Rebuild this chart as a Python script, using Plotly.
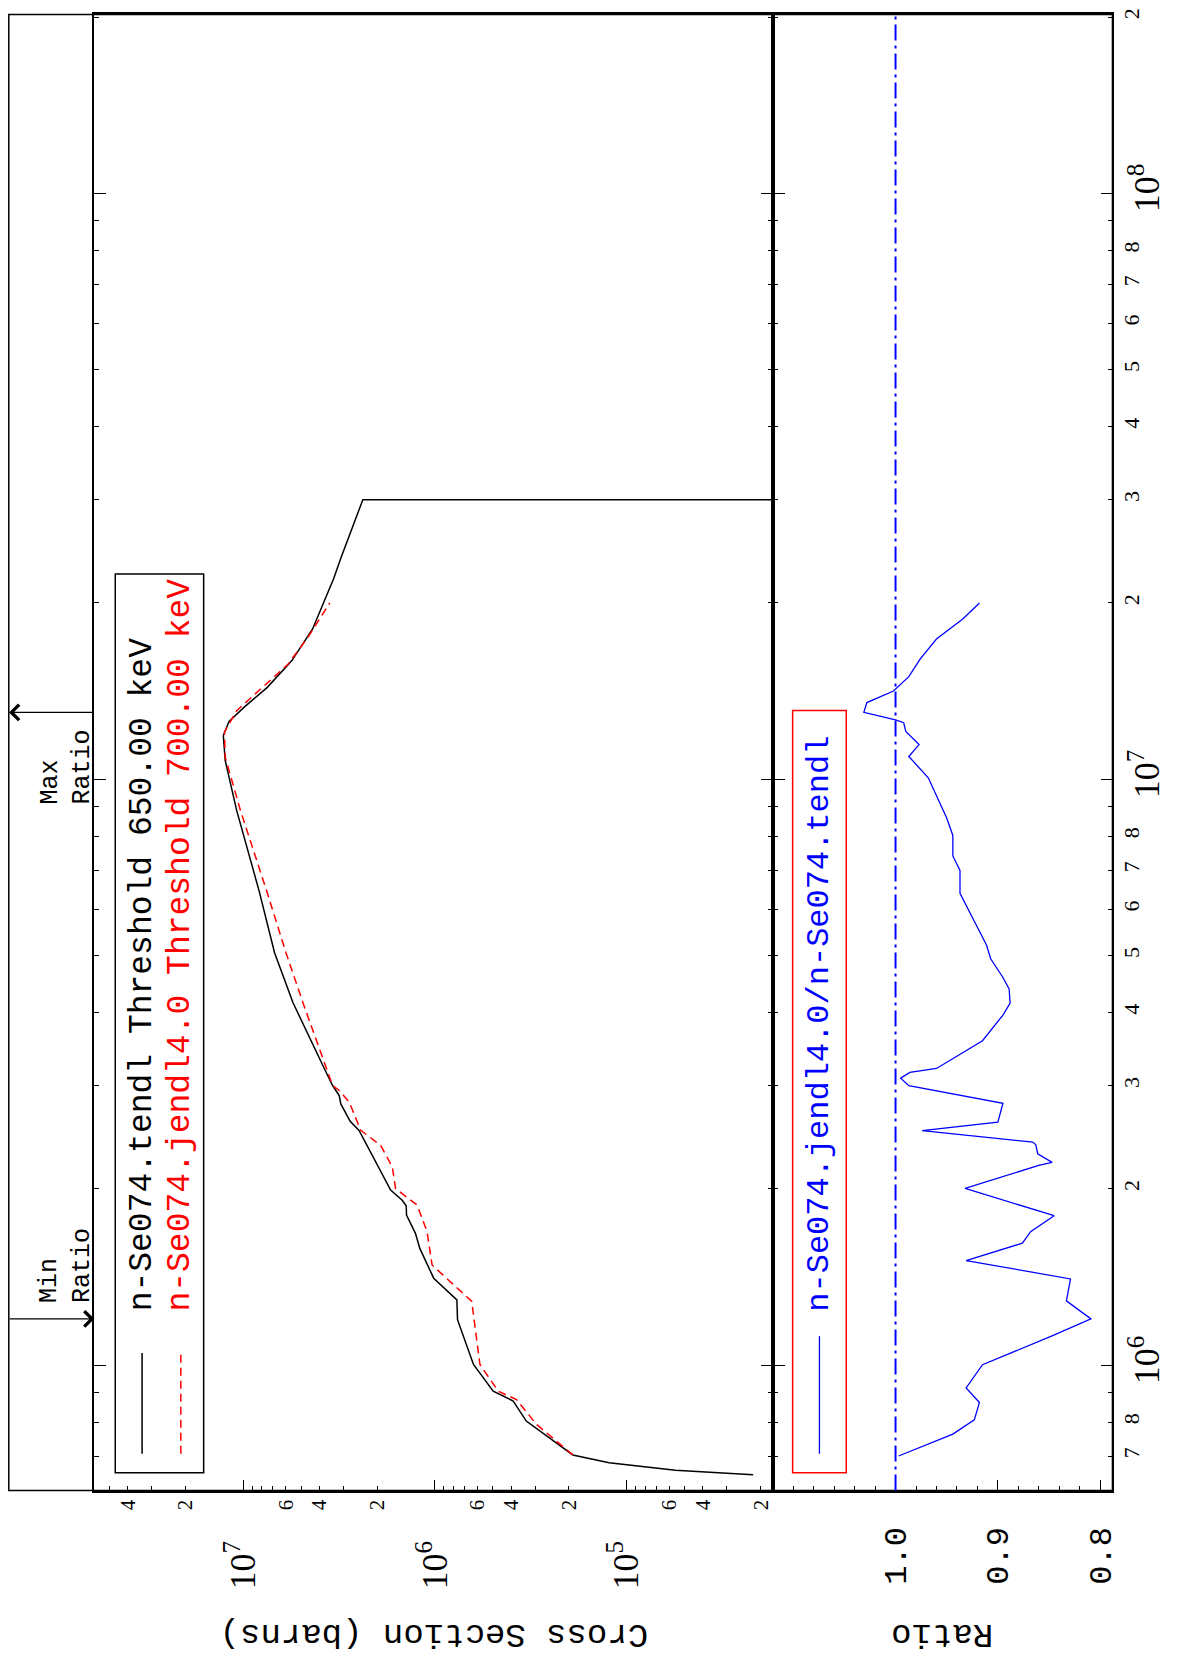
import numpy as np
import plotly.graph_objects as go

# ---------------- data ----------------
# n-Se074.tendl : incident energy (eV) / cross section (barns)
tendl_energy = [6.50e5, 6.62e5, 6.82e5, 7.03e5, 8.03e5, 8.69e5, 9.03e5, 1.003e6,
                1.196e6, 1.293e6, 1.408e6, 1.583e6, 1.679e6, 1.804e6, 1.872e6, 1.913e6,
                1.99e6, 2.194e6, 2.404e6, 2.517e6, 2.608e6, 2.793e6, 2.887e6, 3.002e6,
                3.203e6, 4.16e6, 5.06e6, 6.42e6, 8.85e6, 1.077e7, 1.188e7, 1.255e7,
                1.328e7, 1.434e7, 1.593e7, 1.806e7, 2.20e7, 2.39e7, 3.0e7, 3.0e7]
tendl_xs = [2.19e4, 5.57e4, 1.235e5, 1.91e5, 3.34e5, 3.91e5, 4.97e5, 6.30e5,
            7.63e5, 7.69e5, 1.016e6, 1.20e6, 1.265e6, 1.408e6, 1.413e6, 1.483e6,
            1.704e6, 2.0e6, 2.30e6, 2.49e6, 2.77e6, 3.10e6, 3.16e6, 3.42e6,
            3.77e6, 5.51e6, 6.87e6, 8.24e6, 1.083e7, 1.243e7, 1.271e7, 1.187e7,
            9.89e6, 7.52e6, 5.59e6, 4.35e6, 3.38e6, 3.09e6, 2.38e6, 1e-3]

# n-Se074.jendl4.0
jendl_energy = [7.03e5, 7.93e5, 8.74e5, 9.03e5, 1.003e6, 1.285e6, 1.483e6, 1.69e6,
                1.877e6, 2.002e6, 2.18e6, 2.373e6, 2.517e6, 2.812e6, 2.944e6, 3.0e6,
                4.16e6, 5.06e6, 6.42e6, 8.85e6, 1.092e7, 1.204e7, 1.31e7, 1.571e7,
                1.757e7, 2.0e7]
jendl_xs = [1.91e5, 2.96e5, 3.76e5, 4.68e5, 5.83e5, 6.43e5, 1.036e6, 1.10e6,
            1.24e6, 1.606e6, 1.67e6, 1.92e6, 2.44e6, 2.80e6, 3.16e6, 3.42e6,
            4.89e6, 5.99e6, 7.52e6, 1.035e7, 1.243e7, 1.254e7, 1.083e7, 5.85e6,
            4.55e6, 3.54e6]

# ratio jendl4.0 / tendl
ratio_energy = [7.0e5, 7.63e5, 8.07e5, 8.64e5, 9.15e5, 1.002e6, 1.122e6, 1.2e6,
                1.288e6, 1.404e6, 1.509e6, 1.616e6, 1.69e6, 1.80e6, 2.004e6, 2.194e6,
                2.22e6, 2.296e6, 2.38e6, 2.404e6, 2.515e6, 2.60e6, 2.80e6, 3.0e6,
                3.09e6, 3.16e6, 3.21e6, 3.34e6, 3.58e6, 3.96e6, 4.15e6, 4.39e6,
                4.59e6, 4.94e6, 5.21e6, 5.77e6, 6.39e6, 6.99e6, 7.40e6, 8.02e6,
                8.59e6, 1.006e7, 1.094e7, 1.146e7, 1.207e7, 1.249e7, 1.263e7, 1.301e7,
                1.352e7, 1.415e7, 1.497e7, 1.604e7, 1.736e7, 1.88e7, 2.0e7]
ratio_vals = [0.997, 0.944, 0.923, 0.918, 0.931, 0.915, 0.847, 0.809,
              0.833, 0.829, 0.931, 0.876, 0.868, 0.845, 0.932, 0.860,
              0.847, 0.861, 0.863, 0.866, 0.974, 0.900, 0.895, 0.987,
              0.995, 0.986, 0.960, 0.944, 0.915, 0.895, 0.888, 0.889,
              0.895, 0.907, 0.911, 0.924, 0.937, 0.937, 0.944, 0.944,
              0.950, 0.968, 0.987, 0.977, 0.990, 0.992, 1.000, 1.031,
              1.028, 1.002, 0.987, 0.976, 0.960, 0.934, 0.918]

legend_tendl = "n-Se074.tendl Threshold 650.00 keV"
legend_jendl = "n-Se074.jendl4.0 Threshold 700.00 keV"
legend_ratio = "n-Se074.jendl4.0/n-Se074.tendl"

# tick labels
E_label_mantissas = [2, 3, 4, 5, 6, 7, 8]
XS_label_mantissas = [2, 4, 6]
ratio_ticks = [0.8, 0.9, 1.0]
ratio_ticktext = ["0.8", "0.9", "1.0"]

# axis ranges
E_LO, E_HI = 6.11e5, 2.02e8
XS_HI, XS_LO = 5.98e7, 1.73e4
R_HI, R_LO = 1.12, 0.788

# ---------------- layout helpers ----------------
# page has an 8px body margin: figure is placed at (8, 8) in the window
OFF = 8
W, H = 1177, 1652
def px(x):
    return (x - OFF) / W
def py(y):
    return 1 - (y - OFF) / H

MONO = "Liberation Mono"
SERIF = "Liberation Serif"
BLUE = "#0000ff"
RED = "#ff0000"

def in_rng(v, lo, hi):
    return lo * 0.999 <= v <= hi * 1.001

E_dec = [5, 6, 7, 8]
E_major = [10.0 ** n for n in E_dec if in_rng(10.0 ** n, E_LO, E_HI)]
E_minor = [m * 10.0 ** n for n in E_dec for m in range(2, 10) if in_rng(m * 10.0 ** n, E_LO, E_HI)]
E_lab = [m * 10.0 ** n for n in E_dec for m in E_label_mantissas if in_rng(m * 10.0 ** n, E_LO, E_HI)]
E_lab_txt = [str(int(round(v / 10 ** np.floor(np.log10(v))))) for v in E_lab]
E_major_txt = ["10<sup>%d</sup>" % int(round(np.log10(v))) for v in E_major]

XS_dec = [4, 5, 6, 7]
XS_major = [10.0 ** n for n in XS_dec if in_rng(10.0 ** n, XS_LO, XS_HI)]
XS_minor = [m * 10.0 ** n for n in XS_dec for m in range(2, 10) if in_rng(m * 10.0 ** n, XS_LO, XS_HI)]
XS_lab = [m * 10.0 ** n for n in XS_dec for m in XS_label_mantissas if in_rng(m * 10.0 ** n, XS_LO, XS_HI)]
XS_lab_txt = [str(int(round(v / 10 ** np.floor(np.log10(v))))) for v in XS_lab]
XS_major_txt = ["10<sup>%d</sup>" % int(round(np.log10(v))) for v in XS_major]

X1 = (95, 778)
X2 = (778, 1120)
YB, YT = 1490, 8.5

fig = go.Figure()

fig.add_trace(go.Scatter(x=tendl_xs, y=tendl_energy, mode="lines", xaxis="x", yaxis="y",
                         line=dict(color="black", width=1.5), showlegend=False))
fig.add_trace(go.Scatter(x=jendl_xs, y=jendl_energy, mode="lines", xaxis="x", yaxis="y",
                         line=dict(color=RED, width=1.5, dash="8px,5px"), showlegend=False))
fig.add_trace(go.Scatter(x=ratio_vals, y=ratio_energy, mode="lines", xaxis="x2", yaxis="y2",
                         line=dict(color=BLUE, width=1.3), showlegend=False))
# empty traces registering the label-only overlay axes
for xa, ya in [("x3", "y"), ("x4", "y"), ("x2", "y3"), ("x2", "y4")]:
    fig.add_trace(go.Scatter(x=[], y=[], xaxis=xa, yaxis=ya, showlegend=False, hoverinfo="skip"))

lw = 1.5
common = dict(showgrid=False, zeroline=False, linecolor="black", linewidth=lw,
              tickcolor="black", tickwidth=1.3)

fig.update_layout(
    width=W, height=H, autosize=False,
    margin=dict(l=0, r=0, t=0, b=0),
    paper_bgcolor="white", plot_bgcolor="white",
    showlegend=False,
    xaxis=dict(domain=[px(X1[0]), px(X1[1])], anchor="y", type="log",
               range=[np.log10(XS_HI), np.log10(XS_LO)], autorange=False,
               showline=True, mirror=True, ticks="inside", ticklen=11,
               tickmode="array", tickvals=XS_major, showticklabels=False,
               minor=dict(tickmode="array", tickvals=XS_minor, ticks="inside", ticklen=5,
                          tickcolor="black", tickwidth=1.3, showgrid=False),
               **common),
    xaxis3=dict(overlaying="x", anchor="y", side="bottom", type="log",
                range=[np.log10(XS_HI), np.log10(XS_LO)], autorange=False,
                showline=False, ticks="", tickmode="array", tickvals=XS_lab, ticktext=XS_lab_txt,
                tickangle=-90, tickfont=dict(family=SERIF, size=21, color="black"),
                ticklabelstandoff=4, ticklabeloverflow="allow",
                showgrid=False, zeroline=False),
    xaxis4=dict(overlaying="x", anchor="y", side="bottom", type="log",
                range=[np.log10(XS_HI), np.log10(XS_LO)], autorange=False,
                showline=False, ticks="", tickmode="array", tickvals=XS_major, ticktext=XS_major_txt,
                tickangle=-90, tickfont=dict(family=SERIF, size=36, color="black"),
                ticklabelstandoff=42, ticklabeloverflow="allow",
                showgrid=False, zeroline=False),
    xaxis2=dict(domain=[px(X2[0]), px(X2[1])], anchor="y2", type="linear",
                range=[R_HI, R_LO], autorange=False,
                showline=True, mirror=True, ticks="inside", ticklen=11,
                tickmode="array", tickvals=ratio_ticks, ticktext=ratio_ticktext,
                tickangle=-90, tickfont=dict(family=MONO, size=32, color="black"),
                ticklabelstandoff=22, ticklabeloverflow="allow",
                minor=dict(tickmode="linear", tick0=0.8, dtick=0.02, ticks="inside", ticklen=5,
                           tickcolor="black", tickwidth=1.3, showgrid=False),
                **common),
    yaxis=dict(domain=[py(YB), py(YT)], anchor="x", type="log",
               range=[np.log10(E_LO), np.log10(E_HI)], autorange=False,
               showline=True, mirror="ticks", ticks="inside", ticklen=12,
               tickmode="array", tickvals=E_major, showticklabels=False,
               minor=dict(tickmode="array", tickvals=E_minor, ticks="inside", ticklen=5,
                          tickcolor="black", tickwidth=1.3, showgrid=False),
               **common),
    yaxis2=dict(domain=[py(YB), py(YT)], anchor="x2", type="log", side="right",
                range=[np.log10(E_LO), np.log10(E_HI)], autorange=False,
                showline=True, mirror="ticks", ticks="inside", ticklen=12,
                tickmode="array", tickvals=E_major, showticklabels=False,
                minor=dict(tickmode="array", tickvals=E_minor, ticks="inside", ticklen=5,
                           tickcolor="black", tickwidth=1.3, showgrid=False),
                **common),
    yaxis3=dict(overlaying="y2", anchor="x2", side="right", type="log",
                range=[np.log10(E_LO), np.log10(E_HI)], autorange=False,
                showline=False, ticks="", tickmode="array", tickvals=E_lab, ticktext=E_lab_txt,
                tickangle=-90, tickfont=dict(family=SERIF, size=22, color="black"),
                ticklabelstandoff=4, ticklabeloverflow="allow",
                showgrid=False, zeroline=False),
    yaxis4=dict(overlaying="y2", anchor="x2", side="right", type="log",
                range=[np.log10(E_LO), np.log10(E_HI)], autorange=False,
                showline=False, ticks="", tickmode="array", tickvals=E_major, ticktext=E_major_txt,
                tickangle=-90, tickfont=dict(family=SERIF, size=36, color="black"),
                ticklabelstandoff=10, ticklabeloverflow="allow",
                showgrid=False, zeroline=False),
)

shapes = []
# outer frame (page border around the plot and the top margin)
shapes.append(dict(type="rect", xref="paper", yref="paper",
                   x0=px(8.8), x1=px(X2[1]), y0=py(YB), y1=py(YT),
                   line=dict(color="black", width=lw)))
# ratio = 1 reference line
shapes.append(dict(type="line", xref="x2", yref="y2 domain", x0=1.0, x1=1.0, y0=0, y1=1,
                   line=dict(color=BLUE, width=2, dash="16px,5px,3px,5px")))
# legend 1 box and samples
shapes.append(dict(type="rect", xref="paper", yref="paper",
                   x0=px(116), x1=px(205), y0=py(1472), y1=py(570),
                   line=dict(color="black", width=lw)))
shapes.append(dict(type="line", xref="paper", yref="paper",
                   x0=px(143), x1=px(143), y0=py(1453), y1=py(1352),
                   line=dict(color="black", width=1.5)))
shapes.append(dict(type="line", xref="paper", yref="paper",
                   x0=px(182), x1=px(182), y0=py(1453), y1=py(1352),
                   line=dict(color=RED, width=1.5, dash="8px,5px")))
# legend 2 box and sample
shapes.append(dict(type="rect", xref="paper", yref="paper",
                   x0=px(798), x1=px(852), y0=py(1472), y1=py(707),
                   line=dict(color=RED, width=lw)))
shapes.append(dict(type="line", xref="paper", yref="paper",
                   x0=px(825), x1=px(825), y0=py(1453), y1=py(1335),
                   line=dict(color=BLUE, width=1.3)))
fig.update_layout(shapes=shapes)

ann = []
ann.append(dict(text=legend_tendl, x=px(143), y=py(1312), xref="paper", yref="paper",
                xanchor="center", yanchor="bottom", textangle=-90, showarrow=False,
                font=dict(family=MONO, size=33, color="black")))
ann.append(dict(text=legend_jendl, x=px(182), y=py(1312), xref="paper", yref="paper",
                xanchor="center", yanchor="bottom", textangle=-90, showarrow=False,
                font=dict(family=MONO, size=33, color=RED)))
ann.append(dict(text=legend_ratio, x=px(825), y=py(1312), xref="paper", yref="paper",
                xanchor="center", yanchor="bottom", textangle=-90, showarrow=False,
                font=dict(family=MONO, size=32, color=BLUE)))
# axis titles (page is rotated)
ann.append(dict(text="Cross Section (barns)", x=px(437), y=py(1634), xref="paper", yref="paper",
                xanchor="center", yanchor="middle", textangle=180, showarrow=False,
                font=dict(family=MONO, size=34, color="black")))
ann.append(dict(text="Ratio", x=px(949), y=py(1634), xref="paper", yref="paper",
                xanchor="center", yanchor="middle", textangle=180, showarrow=False,
                font=dict(family=MONO, size=34, color="black")))

# Min / Max ratio markers
r = np.array(ratio_vals)
e = np.array(ratio_energy)
e_min = e[np.argmin(r)]
e_max = e[np.argmax(r)]
ann.append(dict(text="", x=px(X1[0]), y=np.log10(e_min), xref="paper", yref="y",
                showarrow=True, ax=-(X1[0] - 8.8), ay=0, axref="pixel", ayref="pixel",
                arrowhead=4, arrowsize=2.3, arrowwidth=1.3, arrowcolor="black"))
ann.append(dict(text="", x=px(8.8), y=np.log10(e_max), xref="paper", yref="y",
                showarrow=True, ax=(X1[0] - 8.8), ay=0, axref="pixel", ayref="pixel",
                arrowhead=4, arrowsize=2.3, arrowwidth=1.3, arrowcolor="black"))
ann.append(dict(text="Min<br>Ratio", x=px(67), y=np.log10(e_min), xref="paper", yref="y",
                xanchor="center", yanchor="bottom", yshift=14, textangle=-90, align="left",
                showarrow=False, font=dict(family=MONO, size=25, color="black")))
ann.append(dict(text="Max<br>Ratio", x=px(67), y=np.log10(e_max), xref="paper", yref="y",
                xanchor="center", yanchor="top", yshift=-15, textangle=-90, align="left",
                showarrow=False, font=dict(family=MONO, size=25, color="black")))
fig.update_layout(annotations=ann)

fig.write_html("out.html")
